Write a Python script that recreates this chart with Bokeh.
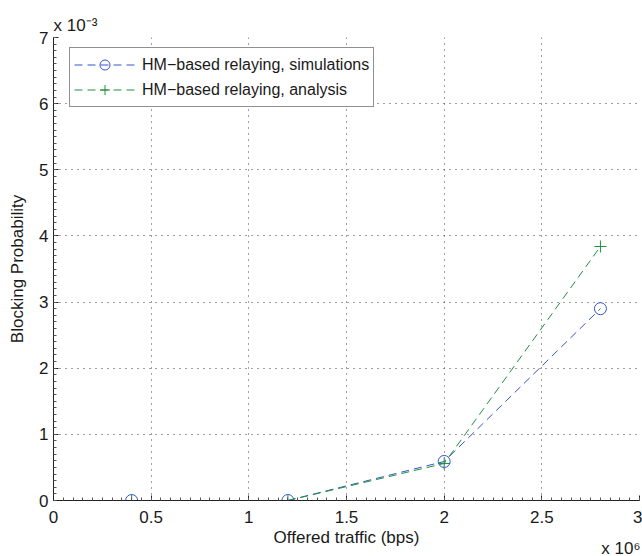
import numpy as np
from bokeh.plotting import figure
from bokeh.models import FixedTicker, Legend, LegendItem, Range1d, Title
from bokeh.embed import file_html
from bokeh.resources import INLINE

# Data (x in units of 10^6 bps, y in units of 10^-3)
offered_traffic = [0.4, 1.2, 2.0, 2.8]
blocking_sim = [0.0, 0.0, 0.59, 2.90]
blocking_ana = [0.0, 0.0, 0.56, 3.84]

series_labels = ["HM\u2212based relaying, simulations", "HM\u2212based relaying, analysis"]

x_ticks = [0, 0.5, 1, 1.5, 2, 2.5, 3]
x_tick_labels = ["0", "0.5", "1", "1.5", "2", "2.5", "3"]
y_ticks = [0, 1, 2, 3, 4, 5, 6, 7]
y_tick_labels = ["0", "1", "2", "3", "4", "5", "6", "7"]
x_exponent = "x 10\u2076"
y_exponent = "x 10\u207b\u00b3"

FONT = "Liberation Sans"
BLUE = "#3355cc"
GREEN = "#1f8f3f"
TXT = "#1a1a1a"

p = figure(width=642, height=556,
           x_range=Range1d(0, 3), y_range=Range1d(0, 7),
           output_backend="svg", toolbar_location=None,
           min_border_left=53, min_border_right=3,
           min_border_top=37, min_border_bottom=56)
p.outline_line_color = None
p.background_fill_color = "white"
p.border_fill_color = "white"

x_minor = [round(v, 4) for v in np.arange(0, 3.0001, 0.05)]
y_minor = [round(v, 4) for v in np.arange(0, 7.0001, 0.1)]
p.xaxis.ticker = FixedTicker(ticks=x_ticks, minor_ticks=x_minor)
p.yaxis.ticker = FixedTicker(ticks=y_ticks, minor_ticks=y_minor)
p.xaxis.major_label_overrides = {t: l for t, l in zip(x_ticks, x_tick_labels)}
p.yaxis.major_label_overrides = {t: l for t, l in zip(y_ticks, y_tick_labels)}

for ax in (p.xaxis, p.yaxis):
    ax.axis_line_color = "#222222"
    ax.axis_line_width = 1
    ax.major_tick_in = 5
    ax.major_tick_out = 0
    ax.minor_tick_in = 3
    ax.minor_tick_out = 0
    ax.major_tick_line_color = "#222222"
    ax.minor_tick_line_color = "#555555"
    ax.major_label_text_font = FONT
    ax.major_label_text_font_size = "17px"
    ax.major_label_text_color = TXT
    ax.axis_label_text_font = FONT
    ax.axis_label_text_font_size = "17px"
    ax.axis_label_text_font_style = "normal"
    ax.axis_label_text_color = TXT

p.xaxis.axis_label = "Offered traffic (bps)"
p.yaxis.axis_label = "Blocking Probability"
p.xaxis.major_label_standoff = 10
p.xaxis.axis_label_standoff = 2
p.yaxis.major_label_standoff = 5
p.yaxis.axis_label_standoff = 9

for g in (p.xgrid, p.ygrid):
    g.grid_line_color = "#404040"
    g.grid_line_width = 1
    g.grid_line_dash = "1 5"
p.xgrid.ticker = FixedTicker(ticks=x_ticks)
p.ygrid.ticker = FixedTicker(ticks=y_ticks)

l1 = p.line(offered_traffic, blocking_sim, line_color=BLUE, line_width=1, line_dash="8 5")
s1 = p.scatter(offered_traffic, blocking_sim, marker="circle", size=12,
               line_color=BLUE, fill_color=None, line_width=1)
l2 = p.line(offered_traffic, blocking_ana, line_color=GREEN, line_width=1, line_dash="8 5")
s2 = p.scatter(offered_traffic, blocking_ana, marker="cross", size=12,
               line_color=GREEN, line_width=1)

legend = Legend(items=[LegendItem(label=series_labels[0], renderers=[l1, s1]),
                       LegendItem(label=series_labels[1], renderers=[l2, s2])],
                location=(16, 393), margin=0, padding=4, spacing=0,
                glyph_width=61, glyph_height=25, label_height=25, label_standoff=7,
                label_text_font=FONT, label_text_font_size="16px",
                label_text_color=TXT,
                border_line_color="#222222", border_line_width=1,
                background_fill_color="white", background_fill_alpha=1)
p.add_layout(legend)

# Exponent labels (outside the frame, as titles)
p.add_layout(Title(text=y_exponent, align="left", vertical_align="bottom",
                   offset=0, standoff=6, text_font=FONT, text_font_size="17px",
                   text_font_style="normal", text_color=TXT), "above")
p.add_layout(Title(text=x_exponent, align="right", vertical_align="top",
                   offset=-1, standoff=-22, text_font=FONT, text_font_size="17px",
                   text_font_style="normal", text_color=TXT), "below")

open("out.html", "w").write(file_html(p, INLINE))
